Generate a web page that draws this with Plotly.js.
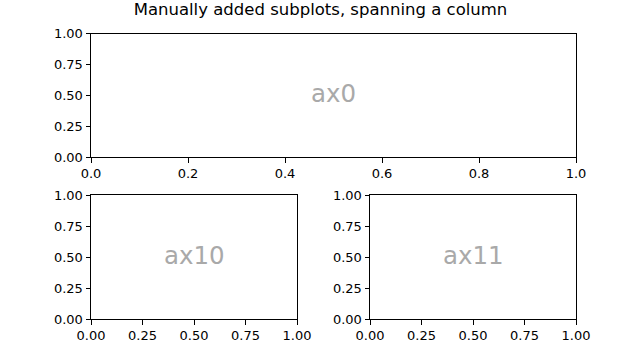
<!DOCTYPE html>
<html>
<head>
<meta charset="utf-8">
<script src="https://cdn.plot.ly/plotly-3.0.1.min.js"></script>
<style>html,body{margin:0;padding:0;background:#fff;}#chart{width:622px;height:358px;}</style>
</head>
<body>
<div id="chart"></div>
<script>
const titleText = "Manually added subplots, spanning a column";
const axisNames = ["ax0", "ax10", "ax11"];
const xTicksTop = [0.0, 0.2, 0.4, 0.6, 0.8, 1.0];
const xTickTextTop = ["0.0", "0.2", "0.4", "0.6", "0.8", "1.0"];
const xTicksBottom = [0.0, 0.25, 0.5, 0.75, 1.0];
const xTickTextBottom = ["0.00", "0.25", "0.50", "0.75", "1.00"];
const yTicks = [0.0, 0.25, 0.5, 0.75, 1.0];
const yTickText = ["0.00", "0.25", "0.50", "0.75", "1.00"];
const axisRange = [0, 1];

const font = {family: "DejaVu Sans", size: 13, color: "#000"};

function axisStyle(domain, tv, tt, anchor) {
  return {
    domain: domain,
    range: axisRange,
    autorange: false,
    tickmode: "array",
    tickvals: tv,
    ticktext: tt,
    ticks: "outside",
    ticklen: 4.5,
    tickwidth: 1,
    tickcolor: "#000",
    showline: true,
    linecolor: "#000",
    linewidth: 1,
    mirror: true,
    showgrid: false,
    zeroline: false,
    tickfont: font,
    anchor: anchor,
    fixedrange: true
  };
}

const traces = [
  {x: [], y: [], xaxis: "x", yaxis: "y", type: "scatter", mode: "markers", showlegend: false},
  {x: [], y: [], xaxis: "x2", yaxis: "y2", type: "scatter", mode: "markers", showlegend: false},
  {x: [], y: [], xaxis: "x3", yaxis: "y3", type: "scatter", mode: "markers", showlegend: false}
];

const layout = {
  width: 622,
  height: 358,
  margin: {l: 0, r: 0, t: 0, b: 0},
  paper_bgcolor: "#fff",
  plot_bgcolor: "#fff",
  showlegend: false,
  font: font,
  title: {
    text: titleText,
    font: {family: "DejaVu Sans", size: 16.5, color: "#000"},
    x: 320.5 / 622, xanchor: "center",
    y: 1 - 9.5 / 358, yanchor: "middle",
    yref: "container", xref: "container"
  },
  xaxis: axisStyle([91/622, 576/622], xTicksTop, xTickTextTop, "y"),
  yaxis: axisStyle([1 - 157/358, 1 - 33.5/358], yTicks, yTickText, "x"),
  xaxis2: axisStyle([91/622, 297/622], xTicksBottom, xTickTextBottom, "y2"),
  yaxis2: axisStyle([1 - 319/358, 1 - 195/358], yTicks, yTickText, "x2"),
  xaxis3: axisStyle([370/622, 576/622], xTicksBottom, xTickTextBottom, "y3"),
  yaxis3: axisStyle([1 - 319/358, 1 - 195/358], yTicks, yTickText, "x3"),
  annotations: axisNames.map((name, i) => {
    const s = i === 0 ? "" : String(i + 1);
    return {
      text: name,
      xref: "x" + s + " domain",
      yref: "y" + s + " domain",
      x: 0.5, y: 0.5,
      xanchor: "center", yanchor: "middle",
      yshift: 2,
      showarrow: false,
      font: {family: "DejaVu Sans", size: 24.5, color: "#a9a9a9"}
    };
  })
};

Plotly.newPlot("chart", traces, layout, {staticPlot: true, displayModeBar: false});
</script>
</body>
</html>
